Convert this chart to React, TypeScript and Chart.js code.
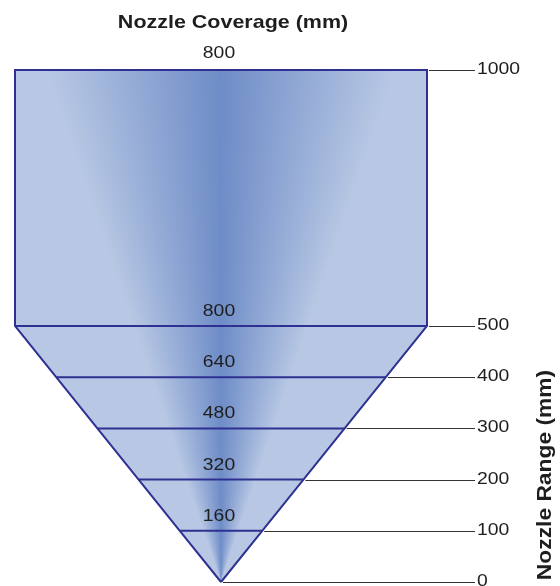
import React, { useEffect, useRef } from "react";
import { Chart, registerables } from "chart.js";

Chart.register(...registerables);

// ---- data ----
const ranges = [0, 100, 200, 300, 400, 500, 1000];
const coverage = [0, 160, 320, 480, 640, 800, 800];
const rangeTickLabels = ["0", "100", "200", "300", "400", "500", "1000"];
const coverageLabels = ["", "160", "320", "480", "640", "800", "800"];
const chartTitle = "Nozzle Coverage (mm)";
const axisTitle = "Nozzle Range (mm)";

// ---- styles ----
const LINE = "#2e3192";
const CENTER = "#6e8cc7";
const EDGE = "#b8c8e4";
const TEXT = "#1e1e1e";
const LEADER = "#333333";
const FONT = "'Liberation Sans', Arial, sans-serif";
const STRETCH = 1.14;

function drawText(
  ctx: CanvasRenderingContext2D,
  text: string,
  x: number,
  y: number,
  font: string,
  align: CanvasTextAlign,
  baseline: CanvasTextBaseline,
  sx: number,
  rot = 0
) {
  ctx.save();
  ctx.translate(x, y);
  if (rot) ctx.rotate(rot);
  ctx.scale(sx, 1);
  ctx.font = font;
  ctx.textAlign = align;
  ctx.textBaseline = baseline;
  ctx.fillStyle = TEXT;
  ctx.fillText(text, 0, 0);
  ctx.restore();
}

const fanPlugin = {
  id: "fan",
  beforeDatasetsDraw(chart: any) {
    const { ctx, scales } = chart;
    const meta = chart.getDatasetMeta(0);
    const pts = meta.data;
    const cx = scales.x.getPixelForValue(0);
    const cy = scales.y.getPixelForValue(0);
    ctx.save();
    ctx.beginPath();
    pts.forEach((p: any, i: number) => {
      if (i === 0) ctx.moveTo(p.x, p.y);
      else ctx.lineTo(p.x, p.y);
    });
    ctx.closePath();
    const g = ctx.createConicGradient(Math.PI / 2, cx, cy);
    const spread = 19 / 360;
    g.addColorStop(0, EDGE);
    g.addColorStop(0.5 - spread, EDGE);
    g.addColorStop(0.5, CENTER);
    g.addColorStop(0.5 + spread, EDGE);
    g.addColorStop(1, EDGE);
    ctx.fillStyle = g;
    ctx.fill();
    ctx.restore();
  },
  afterDatasetsDraw(chart: any) {
    const { ctx, scales, chartArea } = chart;
    const xs = scales.x;
    const ys = scales.y;
    const axisX = chartArea.right + 48;
    const midX = xs.getPixelForValue(0);

    // leader lines + right tick labels
    ctx.save();
    ctx.strokeStyle = LEADER;
    ctx.lineWidth = 1;
    ranges.forEach((r, i) => {
      const y = Math.round(ys.getPixelForValue(r)) + 0.5;
      const x0 = xs.getPixelForValue(coverage[i] / 2) + 2;
      ctx.beginPath();
      ctx.moveTo(x0, y);
      ctx.lineTo(axisX, y);
      ctx.stroke();
      drawText(ctx, rangeTickLabels[i], axisX + 2, y - 1.5, `17px ${FONT}`, "left", "middle", STRETCH);
    });
    ctx.restore();

    // coverage labels above each level line
    ranges.forEach((r, i) => {
      const lbl = coverageLabels[i];
      if (!lbl) return;
      const y = ys.getPixelForValue(r);
      const off = i === ranges.length - 1 ? 12 : 10;
      drawText(ctx, lbl, midX - 2, y - off, `17px ${FONT}`, "center", "alphabetic", STRETCH);
    });

    // titles
    drawText(ctx, chartTitle, (chartArea.left + chartArea.right) / 2 + 12, 28, `bold 19px ${FONT}`, "center", "alphabetic", 1.13);
    drawText(ctx, axisTitle, chartArea.right + 118, 475, `bold 20px ${FONT}`, "center", "middle", 1.14, -Math.PI / 2);
  },
};

export default function App() {
  const ref = useRef<HTMLCanvasElement>(null);
  useEffect(() => {
    if (!ref.current) return;
    const right = ranges.map((r, i) => ({ x: coverage[i] / 2, y: r }));
    const left = right
      .slice()
      .reverse()
      .map((p) => ({ x: -p.x, y: p.y }));
    const outline = [...right, ...left];
    const levelSets = ranges
      .map((r, i) => ({ r, c: coverage[i] }))
      .filter((d) => d.c > 0)
      .map((d) => ({
        data: [
          { x: -d.c / 2, y: d.r },
          { x: d.c / 2, y: d.r },
        ],
        showLine: true,
        borderColor: LINE,
        borderWidth: 2,
        pointRadius: 0,
        clip: false as const,
      }));
    const chart = new Chart(ref.current, {
      type: "scatter",
      data: {
        datasets: [
          {
            data: outline,
            showLine: true,
            borderColor: LINE,
            borderWidth: 2,
            pointRadius: 0,
            fill: false,
            clip: false as const,
          },
          ...levelSets,
        ],
      },
      options: {
        responsive: false,
        animation: false,
        layout: { padding: { left: 15, right: 133, top: 70, bottom: 4 } },
        plugins: { legend: { display: false }, tooltip: { enabled: false } },
        scales: {
          x: { type: "linear", min: -400, max: 400, display: false },
          y: { type: "linear", min: 0, max: 1000, display: false },
        },
      },
      plugins: [fanPlugin],
    });
    return () => chart.destroy();
  }, []);
  return (
    <div style={{ position: "fixed", left: 0, top: 0, width: 560, height: 586, background: "#fff" }}>
      <canvas ref={ref} width={560} height={586} />
    </div>
  );
}
